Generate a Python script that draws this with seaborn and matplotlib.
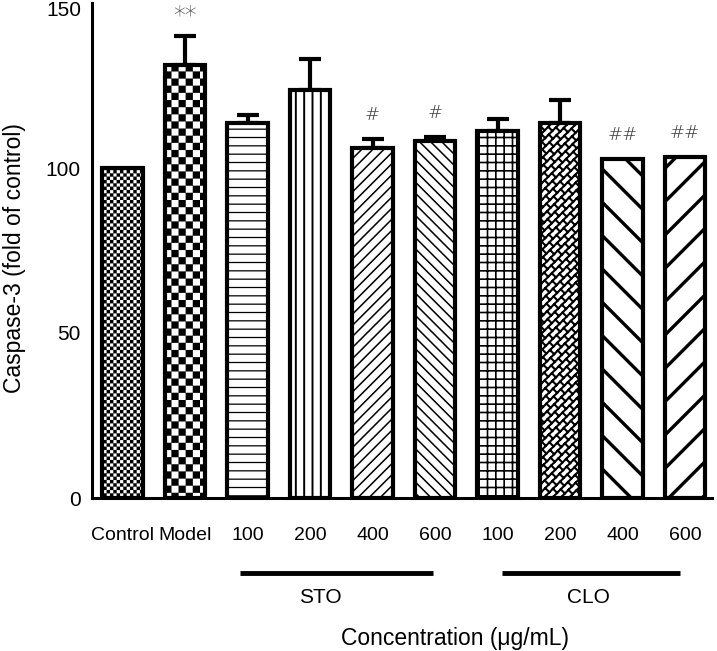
import warnings
warnings.filterwarnings("ignore")

import numpy as np
import pandas as pd
import matplotlib
matplotlib.use("Agg")
import matplotlib.pyplot as plt
import matplotlib.hatch as mhatch
import matplotlib.transforms as mtransforms
from matplotlib.path import Path
import seaborn as sns

# ---------------- data ----------------
groups = ["Control", "Model", "STO-100", "STO-200", "STO-400", "STO-600",
          "CLO-100", "CLO-200", "CLO-400", "CLO-600"]
tick_labels = ["Control", "Model", "100", "200", "400", "600",
               "100", "200", "400", "600"]
means = [100.0, 131.2, 113.6, 123.6, 106.1, 108.2, 111.2, 113.6, 102.7, 103.3]
errors = [0.0, 8.8, 2.5, 9.4, 2.7, 1.2, 3.6, 7.0, 0.0, 0.0]
marks = ["", "**", "", "", "#", "#", "", "", "##", "##"]
group_names = ["STO", "CLO"]
y_ticks = [0, 50, 100, 150]
x_title = "Concentration (\u03bcg/mL)"
y_title = "Caspase-3 (fold of control)"


# ---------------- custom hatch patterns ----------------
class CheckerHatch(mhatch.HatchPatternBase):
    """'k' repeated = number of checker periods per hatch tile."""
    def __init__(self, hatch, density):
        k = hatch.count('k')
        self.n = 2 * k
        self.num_vertices = (self.n * self.n // 2) * 5 if k else 0

    def set_vertices_and_codes(self, vertices, codes):
        n = self.n
        s = 1.0 / n
        idx = 0
        for i in range(n):
            for j in range(n):
                if (i + j) % 2:
                    continue
                x0, y0 = i * s, j * s
                x1, y1 = (i + 1) * s, (j + 1) * s
                vertices[idx:idx + 5] = [(x0, y0), (x1, y0), (x1, y1), (x0, y1), (x0, y0)]
                codes[idx:idx + 5] = [Path.MOVETO, Path.LINETO, Path.LINETO,
                                      Path.LINETO, Path.CLOSEPOLY]
                idx += 5


class BrickHatch(mhatch.HatchPatternBase):
    """'b' = diagonal brick pattern."""
    N = 12
    P = 7

    def __init__(self, hatch, density):
        n, p = self.N, self.P
        if 'b' in hatch:
            self.num_vertices = 2 * ((2 * n + 1) + 2 * n * (2 * p + 1))
        else:
            self.num_vertices = 0

    def set_vertices_and_codes(self, vertices, codes):
        n, p = self.N, self.P
        idx = 0
        for k in range(-n, n + 1):
            c = k / n
            vertices[idx] = (c - 1, -1)
            vertices[idx + 1] = (c + 2, 2)
            codes[idx] = Path.MOVETO
            codes[idx + 1] = Path.LINETO
            idx += 2
        for k in range(-n, n):
            c1, c2 = k / n, (k + 1) / n
            for m in range(0, 2 * p + 1):
                d = m / p + (k % 2) * 0.5 / p
                vertices[idx] = ((c1 + d) / 2, (d - c1) / 2)
                vertices[idx + 1] = ((c2 + d) / 2, (d - c2) / 2)
                codes[idx] = Path.MOVETO
                codes[idx + 1] = Path.LINETO
                idx += 2


mhatch._hatch_types.append(CheckerHatch)
mhatch._hatch_types.append(BrickHatch)

hatches = ["k" * 15, "k" * 7, "--", "||", "///", "\\\\\\", "++", "b", "\\", "/"]
hatch_lw = [0.1, 0.1, 0.9, 1.4, 1.1, 1.1, 1.2, 1.5, 2.4, 2.4]

# ---------------- fonts / colours ----------------
sns.set_style("white")
plt.rcParams["font.family"] = ["Liberation Sans", "DejaVu Sans"]
plt.rcParams["hatch.color"] = "black"
for key in ["text.color", "axes.labelcolor", "xtick.color", "ytick.color"]:
    plt.rcParams[key] = "black"

# ---------------- figure ----------------
fig = plt.figure(figsize=(7.17, 6.51), dpi=100)
ax = fig.add_axes([92 / 717, 153 / 651, 620 / 717, 495 / 651])

df = pd.DataFrame({"group": groups, "value": means})
sns.barplot(data=df, x="group", y="value", order=groups, color="white",
            edgecolor="black", linewidth=3.0, width=0.65, errorbar=None,
            saturation=1, ax=ax, zorder=2)

for patch, h, lw in zip(ax.patches, hatches, hatch_lw):
    patch.set_facecolor("white")
    patch.set_hatch(h)
    if hasattr(patch, "set_hatch_linewidth"):
        patch.set_hatch_linewidth(lw)

xs = np.arange(len(groups))
has_err = [e > 0 for e in errors]
ax.errorbar(xs[has_err], np.array(means)[has_err],
            yerr=[np.zeros(sum(has_err)), np.array(errors)[has_err]],
            fmt="none", ecolor="black", elinewidth=3, capsize=8, capthick=3,
            zorder=1)

for x, m, e, t in zip(xs, means, errors, marks):
    if t:
        star = "*" in t
        ax.annotate(t, (x, m + e), xytext=(0, 15 if star else 17),
                    textcoords="offset points",
                    ha="center", va="center", fontsize=17 if star else 13,
                    color="#3a3a3a", family="DejaVu Sans", fontweight="light")

ax.set_xlim(-0.488, 9.43)
ax.set_ylim(0, 150)
ax.set_yticks(y_ticks)
ax.set_yticklabels([str(v) for v in y_ticks], fontsize=15)
ax.set_xticks(xs)
ax.set_xticklabels(tick_labels, fontsize=14)
ax.tick_params(axis="x", length=0, pad=21)
ax.tick_params(axis="y", direction="in", length=6, width=2.2, pad=8)
ax.set_xlabel("")
ax.set_ylabel(y_title, fontsize=16.5, va="center")
ax.yaxis.set_label_coords(-0.125, 0.485)

# nudge the top tick label down slightly as in the reference
top_lbl = ax.get_yticklabels()[-1]
top_lbl.set_transform(top_lbl.get_transform() +
                      mtransforms.ScaledTranslation(0, -6 / 100, fig.dpi_scale_trans))

for s in ["top", "right"]:
    ax.spines[s].set_visible(False)
for s in ["left", "bottom"]:
    ax.spines[s].set_linewidth(2.2)
    ax.spines[s].set_color("black")

trans = ax.get_xaxis_transform()
line_spans = [(1.88, 4.97), (6.07, 8.92)]
text_x = [3.16, 7.45]
for (a, b), name, tx in zip(line_spans, group_names, text_x):
    ax.plot([a, b], [-0.1515, -0.1515], color="black", lw=3.5,
            transform=trans, clip_on=False, solid_capstyle="butt")
    ax.text(tx, -0.202, name, transform=trans, ha="center", va="center",
            fontsize=15)
ax.text(5.32, -0.283, x_title, transform=trans, ha="center", va="center",
        fontsize=16.5)

fig.savefig("out.png", dpi=100)
